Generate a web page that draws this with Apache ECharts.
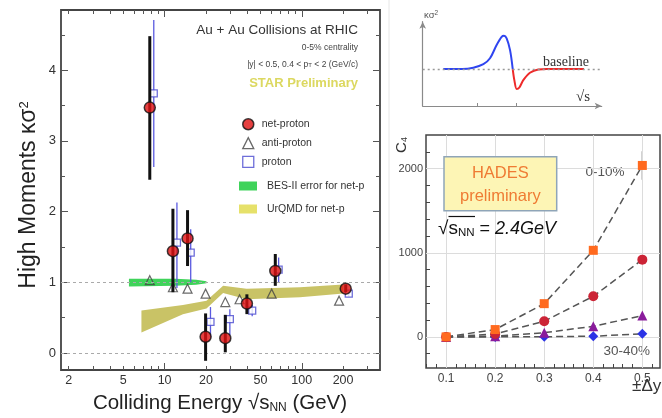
<!DOCTYPE html>
<html><head><meta charset="utf-8">
<script src="https://cdn.jsdelivr.net/npm/echarts@6/dist/echarts.min.js"></script>
<style>html,body{margin:0;padding:0;background:#fff}#c{width:662px;height:418px}</style>
</head><body><div id="c"></div><script>
const FONT = '"Liberation Sans", Arial, sans-serif';
const SERIF = '"Liberation Serif", "DejaVu Serif", serif';

// ---- Left panel (STAR kappa*sigma^2 vs energy) ----
const netpE   = [7.8, 11.5, 14.7, 19.9, 27.7, 39.8, 64.1, 209];
const netpVal = [3.47, 1.44, 1.62, 0.23, 0.21, 0.70, 1.16, 0.91];
const netpLo  = [2.45, 0.86, 1.23, -0.11, 0.01, 0.55, 0.95, 0.86];
const netpHi  = [4.48, 2.04, 2.02, 0.56, 0.54, 0.83, 1.40, 0.97];
const protE   = [8.34, 12.3, 15.5, 21.6, 29.9, 43.5, 67.8, 220];
const protVal = [3.67, 1.56, 1.42, 0.44, 0.48, 0.60, 1.18, 0.84];
const protLo  = [2.63, 0.92, 1.00, 0.22, 0.25, 0.52, 1.00, 0.80];
const protHi  = [4.71, 2.13, 1.75, 0.65, 0.62, 0.68, 1.35, 0.88];
const antiE   = [7.8, 11.5, 14.7, 19.9, 27.7, 35.2, 60.3, 187];
const antiVal = [1.03, 0.93, 0.91, 0.84, 0.72, 0.76, 0.84, 0.74];
const besE  = [5.5, 12, 17, 20.2];
const besHi = [1.05, 1.05, 1.035, 1.015];
const besLo = [0.94, 0.95, 0.965, 0.985];
const urqE  = [6.78, 13.6, 20.2, 26.7, 39.6, 97, 201];
const urqHi = [0.60, 0.68, 0.74, 0.95, 0.91, 0.93, 0.97];
const urqLo = [0.29, 0.55, 0.63, 0.85, 0.76, 0.79, 0.84];
const xLabelVals = [2, 5, 10, 20, 50, 100, 200];
const xMajorTicks = [10, 100];
const xMinorTicks = [2, 3, 4, 5, 6, 7, 8, 9, 20, 30, 40, 50, 60, 70, 80, 90, 200, 300];
const yLabelVals = [0, 1, 2, 3, 4];
const yMinorTicks = [0.5, 1.5, 2.5, 3.5, 4.5];
const refLines = [0, 1];

// ---- Top-right schematic ----
const schBlueX = [11.5, 22, 28.3, 33.9, 37.6, 41.3, 44.1, 45.4, 46.9, 48.8, 50.3];
const schBlueY = [1.0, 1.0, 1.035, 1.13, 1.29, 1.65, 1.87, 1.90, 1.83, 1.51, 1.0];
const schRedX  = [50.3, 51.2, 52.5, 54.0, 56.2, 59.9, 64.6, 69.3, 90.1];
const schRedY  = [1.0, 0.70, 0.46, 0.50, 0.70, 0.90, 0.99, 1.0, 1.0];
const schTicks = [30.7, 52.1];

// ---- Bottom-right HADES C4 ----
const hadesX   = [0.1, 0.2, 0.3, 0.4, 0.5];
const c4Orange = [0, 87, 395, 1029, 2038];
const c4OrangeErr = [0, 0, 0, 40, 170];
const c4Red    = [0, 35, 186, 482, 918];
const c4Purple = [0, 8, 50, 126, 253];
const c4Blue   = [0, 0, 2, 8, 36];
const hxLabels = [0.1, 0.2, 0.3, 0.4, 0.5];
const hxMinor  = [0.06,0.08,0.12,0.14,0.16,0.18,0.22,0.24,0.26,0.28,0.32,0.34,0.36,0.38,0.42,0.44,0.46,0.48,0.52];
const hyLabels = [0, 1000, 2000];
const hyMinor  = [-200, 200, 400, 600, 800, 1200, 1400, 1600, 1800, 2200];

const L = Math.log10;
const lxMin = 0.245, lxMax = 2.57, lyMin = -0.24, lyMax = 4.85;
const hxMin = 0.059, hxMax = 0.536, hyMin = -370, hyMax = 2400;

function valAxis(o) {
  return Object.assign({
    type: 'value', splitLine: {show: false},
    axisLine: {show: false, onZero: false},
    axisLabel: {show: false}
  }, o);
}
function ticks(vals, len, color) {
  return {inside: true, length: len, customValues: vals, lineStyle: {color: color || '#555', width: 1}};
}

function band(name, E, hi, lo, color, z) {
  return {
    type: 'custom', name, xAxisIndex: 0, yAxisIndex: 0, z, silent: true,
    itemStyle: {color},
    data: [[L(E[0]), hi[0]]],
    renderItem: (p, api) => {
      const pts = [];
      for (let i = 0; i < E.length; i++) pts.push(api.coord([L(E[i]), hi[i]]));
      for (let i = E.length - 1; i >= 0; i--) pts.push(api.coord([L(E[i]), lo[i]]));
      return {type: 'polygon', shape: {points: pts}, style: {fill: color}};
    }
  };
}
function errBars(name, xs, lo, hi, color, width, z, xi, yi) {
  return {
    type: 'custom', name, xAxisIndex: xi, yAxisIndex: yi, z, silent: true,
    data: xs.map((x, i) => [x, lo[i], hi[i]]),
    encode: {x: 0, y: [1, 2]},
    renderItem: (p, api) => {
      const a = api.coord([api.value(0), api.value(1)]);
      const b = api.coord([api.value(0), api.value(2)]);
      return {type: 'line', shape: {x1: a[0], y1: a[1], x2: b[0], y2: b[1]}, style: {stroke: color, lineWidth: width}};
    }
  };
}
function hadesLine(name, vals, symbol, color, size) {
  return {
    type: 'line', name, xAxisIndex: 5, yAxisIndex: 5, z: 5,
    data: hadesX.map((x, i) => [x, vals[i]]),
    symbol, symbolSize: size, itemStyle: {color},
    lineStyle: {color: '#555', width: 1.5, type: [7, 4]}
  };
}
function txt(x, y, text, st, extra) {
  return Object.assign({type: 'text', x, y, silent: true,
    style: Object.assign({text, fontFamily: FONT, fill: '#333', align: 'center', verticalAlign: 'middle',
      textAlign: 'center', textVerticalAlign: 'middle'}, st)}, extra || {});
}

const option = {
  animation: false,
  backgroundColor: '#fff',
  grid: [
    {left: 61, top: 10, width: 319, height: 360, show: true, borderColor: '#444', borderWidth: 1.8},
    {left: 422.7, top: 21.7, width: 179, height: 84.3},
    {left: 426, top: 135, width: 234, height: 233, show: true, borderColor: '#444', borderWidth: 1.5}
  ],
  xAxis: [
    valAxis({gridIndex: 0, min: lxMin, max: lxMax, position: 'bottom',
      axisTick: ticks(xMajorTicks.map(L), 7),
      axisLabel: {show: true, customValues: xLabelVals.map(L), formatter: v => String(Math.round(Math.pow(10, v))),
        fontSize: 12.5, color: '#333', fontFamily: FONT, margin: 4}}),
    valAxis({gridIndex: 0, min: lxMin, max: lxMax, position: 'bottom', axisTick: ticks(xMinorTicks.map(L), 4)}),
    valAxis({gridIndex: 0, min: lxMin, max: lxMax, position: 'top', axisTick: ticks(xMajorTicks.map(L), 7)}),
    valAxis({gridIndex: 0, min: lxMin, max: lxMax, position: 'top', axisTick: ticks(xMinorTicks.map(L), 4)}),
    valAxis({gridIndex: 1, min: 0, max: 100, position: 'bottom',
      axisLine: {show: true, onZero: false, symbol: ['none', 'arrow'], symbolSize: [5, 7], lineStyle: {color: '#8a8a8a', width: 1.2}},
      axisTick: ticks(schTicks, 3, '#8a8a8a')}),
    valAxis({gridIndex: 2, min: hxMin, max: hxMax, position: 'bottom',
      axisTick: ticks(hxLabels, 7, '#444'),
      axisLabel: {show: true, customValues: hxLabels, formatter: v => v.toFixed(1), fontSize: 12, color: '#444', fontFamily: FONT, margin: 5}}),
    valAxis({gridIndex: 2, min: hxMin, max: hxMax, position: 'bottom', axisTick: ticks(hxMinor, 4, '#444')})
  ],
  yAxis: [
    valAxis({gridIndex: 0, min: lyMin, max: lyMax, position: 'left',
      axisTick: ticks(yLabelVals, 7),
      axisLabel: {show: true, customValues: yLabelVals, formatter: v => String(v), fontSize: 13, color: '#333', fontFamily: FONT, margin: 5}}),
    valAxis({gridIndex: 0, min: lyMin, max: lyMax, position: 'left', axisTick: ticks(yMinorTicks, 4)}),
    valAxis({gridIndex: 0, min: lyMin, max: lyMax, position: 'right', axisTick: ticks(yLabelVals, 7)}),
    valAxis({gridIndex: 0, min: lyMin, max: lyMax, position: 'right', axisTick: ticks(yMinorTicks, 4)}),
    valAxis({gridIndex: 1, min: 0, max: 2.28, position: 'left',
      axisLine: {show: true, onZero: false, symbol: ['none', 'arrow'], symbolSize: [5, 7], lineStyle: {color: '#8a8a8a', width: 1.2}},
      axisTick: {show: false}}),
    valAxis({gridIndex: 2, min: hyMin, max: hyMax, position: 'left',
      axisTick: ticks(hyLabels, 7, '#444'),
      axisLabel: {show: true, customValues: hyLabels, formatter: v => String(v), fontSize: 11, color: '#444', fontFamily: FONT, margin: 3}}),
    valAxis({gridIndex: 2, min: hyMin, max: hyMax, position: 'left', axisTick: ticks(hyMinor, 4, '#444')})
  ],
  legend: [
    {orient: 'vertical', left: 237, top: 113, itemWidth: 11, itemHeight: 11, itemGap: 6.5, selectedMode: false,
      textStyle: {fontFamily: FONT, fontSize: 10.5, color: '#333', padding: [0, 0, 0, 3]},
      data: [
        {name: 'net-proton', icon: 'circle', itemStyle: {color: '#e01010', borderColor: '#111', borderWidth: 1.5}},
        {name: 'anti-proton', icon: 'triangle', itemStyle: {color: '#fff', borderColor: '#444', borderWidth: 1.3}},
        {name: 'proton', icon: 'rect', itemStyle: {color: '#fff', borderColor: '#4a4ad0', borderWidth: 1.3}}
      ]},
    {orient: 'vertical', left: 234, top: 175.5, itemWidth: 18, itemHeight: 9, itemGap: 12, selectedMode: false,
      textStyle: {fontFamily: FONT, fontSize: 10.5, color: '#333', padding: [0, 0, 0, 5]},
      data: [
        {name: 'BES-II error for net-p', icon: 'rect', itemStyle: {color: '#3fd35a', borderWidth: 0}},
        {name: 'UrQMD for net-p', icon: 'rect', itemStyle: {color: '#e6e16a', borderWidth: 0}}
      ]}
  ],
  series: [
    {type: 'line', name: 'ref', xAxisIndex: 0, yAxisIndex: 0, data: [], z: 1,
      markLine: {silent: true, symbol: 'none', label: {show: false},
        lineStyle: {type: [3, 3], color: '#aaa', width: 1},
        data: refLines.map(v => ({yAxis: v}))}},
    band('BES-II error for net-p', besE, besHi, besLo, '#3fd35a', 2),
    band('UrQMD for net-p', urqE, urqHi, urqLo, '#c9c366', 2),
    errBars('proton err', protE.map(L), protLo, protHi, '#5a5ae0', 1.3, 3, 0, 0),
    {type: 'scatter', name: 'proton', xAxisIndex: 0, yAxisIndex: 0, z: 4,
      data: protE.map((e, i) => [L(e), protVal[i]]), symbol: 'rect', symbolSize: 7,
      itemStyle: {color: '#fff', borderColor: '#4a4ad0', borderWidth: 1.3}},
    {type: 'scatter', name: 'anti-proton', xAxisIndex: 0, yAxisIndex: 0, z: 4,
      data: antiE.map((e, i) => [L(e), antiVal[i]]), symbol: 'triangle', symbolSize: 9,
      itemStyle: {color: 'rgba(255,255,255,0)', borderColor: '#444', borderWidth: 1.2}},
    errBars('net-proton err', netpE.map(L), netpLo, netpHi, '#111', 3, 5, 0, 0),
    {type: 'scatter', name: 'net-proton', xAxisIndex: 0, yAxisIndex: 0, z: 6,
      data: netpE.map((e, i) => [L(e), netpVal[i]]), symbol: 'circle', symbolSize: 11,
      itemStyle: {color: '#e01010', borderColor: '#111', borderWidth: 1.5}},

    // schematic
    {type: 'line', name: 'sch-blue', xAxisIndex: 4, yAxisIndex: 4, smooth: 0.3, symbol: 'none', z: 3,
      data: schBlueX.map((x, i) => [x, schBlueY[i]]), lineStyle: {color: '#2f45f0', width: 2},
      markLine: {silent: true, symbol: 'none', label: {show: false},
        lineStyle: {type: [2, 3], color: '#999', width: 1.3}, data: [{yAxis: 1}]}},
    {type: 'line', name: 'sch-red', xAxisIndex: 4, yAxisIndex: 4, smooth: 0.3, symbol: 'none', z: 3,
      data: schRedX.map((x, i) => [x, schRedY[i]]), lineStyle: {color: '#ee2a2a', width: 2}},

    // HADES
    {type: 'line', name: 'hgrid', xAxisIndex: 5, yAxisIndex: 5, data: [], z: 1,
      markLine: {silent: true, symbol: 'none', label: {show: false},
        lineStyle: {type: 'solid', color: '#dcdcdc', width: 1},
        data: hxLabels.map(v => ({xAxis: v})).concat(hyLabels.map(v => ({yAxis: v})))}},
    errBars('orange err', hadesX, c4Orange.map((v, i) => v - c4OrangeErr[i]), c4Orange.map((v, i) => v + c4OrangeErr[i]), '#555', 1.2, 4, 5, 5),
    hadesLine('30-40%', c4Blue, 'diamond', '#2b33e6', 10),
    hadesLine('c4-purple', c4Purple, 'triangle', '#8a1c9c', 10),
    hadesLine('c4-red', c4Red, 'circle', '#cc2436', 10),
    hadesLine('0-10%', c4Orange, 'rect', '#ff6a1f', 9)
  ],
  graphic: [
    {type: 'line', silent: true, shape: {x1: 389, y1: 0, x2: 389, y2: 300}, style: {stroke: '#e6e6e6', lineWidth: 1}},
    txt(29, 195, '{a|High Moments κσ}{b|2}', {rich: {a: {fontSize: 23, fontFamily: FONT, fill: '#222'}, b: {fontSize: 13, fontFamily: FONT, fill: '#222', verticalAlign: 'top'}}}, {rotation: Math.PI / 2}),
    txt(220, 403, '{a|Colliding Energy √s}{b|NN}{a| (GeV)}', {rich: {a: {fontSize: 20.5, fontFamily: FONT, fill: '#222'}, b: {fontSize: 12, fontFamily: FONT, fill: '#222', verticalAlign: 'bottom'}}}),
    txt(358, 30.7, 'Au + Au Collisions at RHIC', {fontSize: 13.5, fill: '#333', align: 'right', textAlign: 'right'}),
    txt(358, 47.5, '0-5% centrality', {fontSize: 8.5, fill: '#444', align: 'right', textAlign: 'right'}),
    txt(358, 64.3, '{a||y| < 0.5, 0.4 < p}{b|T}{a| < 2 (GeV/c)}', {align: 'right', textAlign: 'right',
      rich: {a: {fontSize: 8.5, fontFamily: FONT, fill: '#444'}, b: {fontSize: 6, fontFamily: FONT, fill: '#444', verticalAlign: 'bottom'}}}),
    txt(358, 83.5, 'STAR Preliminary', {fontSize: 13, fontWeight: 'bold', fill: '#dcd860', align: 'right', textAlign: 'right'}),

    txt(424, 15, '{a|κσ}{b|2}', {align: 'left', textAlign: 'left',
      rich: {a: {fontSize: 9.5, fontFamily: FONT, fill: '#555'}, b: {fontSize: 6.5, fontFamily: FONT, fill: '#555', verticalAlign: 'top'}}}),
    txt(543, 62, 'baseline', {fontSize: 14, fontFamily: SERIF, fill: '#333', align: 'left', textAlign: 'left'}),
    txt(576, 97, '√s', {fontSize: 15, fontFamily: SERIF, fill: '#333', align: 'left', textAlign: 'left'}),

    {type: 'rect', silent: true, shape: {x: 444, y: 156.7, width: 112.7, height: 54}, style: {fill: '#fdf5b5', stroke: '#8fa5b8', lineWidth: 1.5}, z: 50},
    txt(500.3, 173.3, 'HADES', {fontSize: 16.5, fill: '#ef7b33'}, {z: 51}),
    txt(500.3, 196, 'preliminary', {fontSize: 16.5, fill: '#ef7b33'}, {z: 51}),
    txt(438, 229, '{r|√}{s|s}{n|NN}{e| = }{i|2.4GeV}', {align: 'left', textAlign: 'left',
      rich: {r: {fontSize: 19, fontFamily: FONT, fill: '#111'}, s: {fontSize: 19, fontFamily: FONT, fill: '#111'},
        n: {fontSize: 11.5, fontFamily: FONT, fill: '#111', verticalAlign: 'bottom'},
        e: {fontSize: 18, fontFamily: FONT, fill: '#111'}, i: {fontSize: 18, fontFamily: FONT, fontStyle: 'italic', fill: '#111'}}}, {z: 51}),
    {type: 'line', silent: true, z: 51, shape: {x1: 448.5, y1: 216.5, x2: 475, y2: 216.5}, style: {stroke: '#111', lineWidth: 1.2}},
    txt(605, 172.7, '0-10%', {fontSize: 13.5, fill: '#555'}),
    txt(626.7, 351.7, '30-40%', {fontSize: 13.5, fill: '#555'}),
    txt(401.7, 145, '{a|C}{b|4}', {rich: {a: {fontSize: 15, fontFamily: FONT, fill: '#333'}, b: {fontSize: 9, fontFamily: FONT, fill: '#333', verticalAlign: 'bottom'}}}, {rotation: Math.PI / 2}),
    txt(646.7, 386.7, '±Δy', {fontSize: 17, fill: '#333'})
  ]
};
const chart = echarts.init(document.getElementById('c'), null, {renderer: 'canvas'});
chart.setOption(option);
</script></body></html>
